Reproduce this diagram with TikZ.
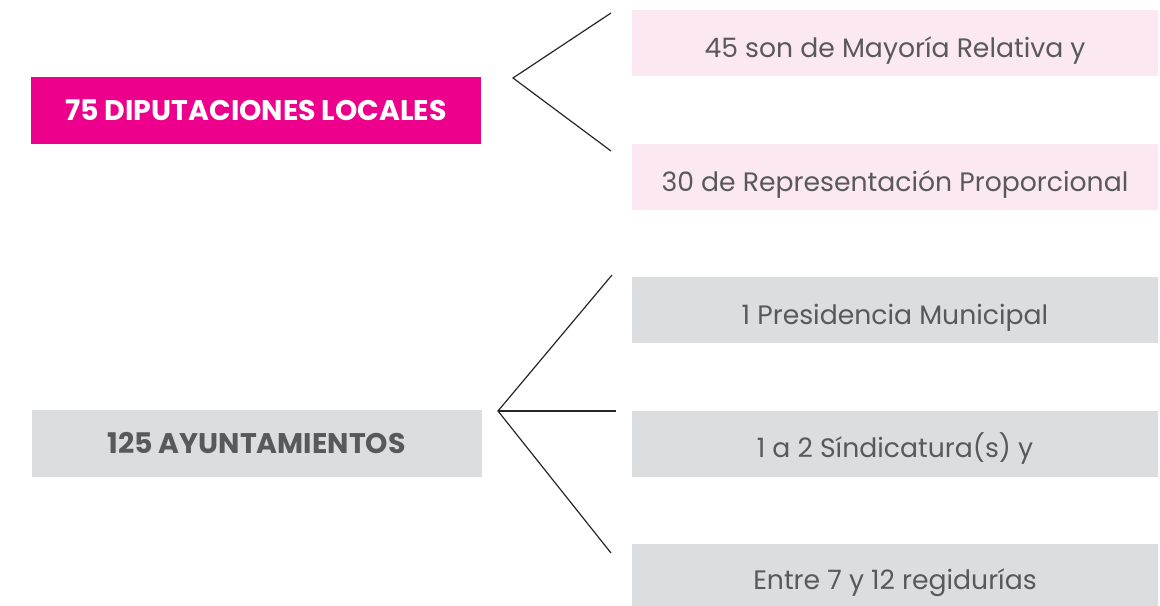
\documentclass[tikz,border=0pt]{standalone}
\usepackage{fontspec}
\setmainfont{Poppins}
\usepackage{tikz}
\usetikzlibrary{positioning}
\definecolor{magentaD}{HTML}{EC008C}
\definecolor{pinkL}{HTML}{FCE8F1}
\definecolor{grayL}{HTML}{DCDDDF}
\definecolor{grayT}{HTML}{58595B}
\tikzset{
  headbox/.style={rectangle,inner sep=0pt,minimum width=337.5pt,minimum height=50.25pt,font=\fontsize{21.3}{24}\selectfont\bfseries},
  itembox/.style={rectangle,inner sep=0pt,minimum width=394.5pt,minimum height=49.5pt,text height=21.5pt,text depth=0pt,text=grayT,font=\fontsize{20}{24}\selectfont},
  branch/.style={line width=0.9pt,black!85}
}
\begin{document}
\begin{tikzpicture}[x=0.75pt,y=0.75pt,yscale=-1,xscale=1]
            \useasboundingbox (0,0) rectangle (1160,606);

            % Left boxes
            \node [headbox,fill=magentaD,text=white] (dip) at (256,110.5) {75 DIPUTACIONES LOCALES};
            \node [headbox,fill=grayL,text=grayT] (ayu) at (256.5,443.5) {125 AYUNTAMIENTOS};

            % Right boxes (diputaciones)
            \node [itembox,fill=pinkL] (mr) at (895,43.5) {45 son de Mayoría Relativa y};
            \node [itembox,fill=pinkL] (rp) at (895,177) {30 de Representación Proporcional};

            % Right boxes (ayuntamientos)
            \node [itembox,fill=grayL] (pm) at (895,310) {1 Presidencia Municipal};
            \node [itembox,fill=grayL] (sin) at (895,443.5) {1 a 2 Síndicatura(s) y};
            \node [itembox,fill=grayL,minimum height=46.5pt] (reg) at (895,575) {Entre 7 y 12 regidurías};

            % Branch points
            \coordinate (dipk) at (513,78);
            \coordinate (dipt) at (611,13);
            \coordinate (dipb) at (611,151);
            \coordinate (ayuk) at (498,411);
            \coordinate (ayut) at (612,275);
            \coordinate (ayum) at (616,411);
            \coordinate (ayub) at (611,553);

            % Straight Lines
            \draw [branch] (dipt) -- (dipk) -- (dipb);
            \draw [branch] (ayut) -- (ayuk) -- (ayub);
            \draw [branch] (ayuk) -- (ayum);

\end{tikzpicture}
\end{document}
